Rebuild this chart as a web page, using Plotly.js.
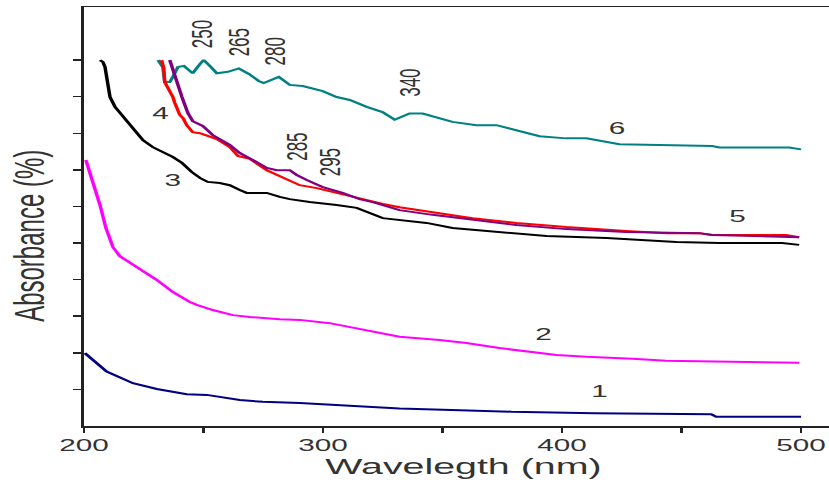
<!DOCTYPE html>
<html>
<head>
<meta charset="utf-8">
<script src="https://cdn.plot.ly/plotly-3.0.1.min.js"></script>
<style>
  html, body { margin: 0; padding: 0; background: #fff; }
  #wrap { width: 829px; height: 486px; overflow: hidden; position: relative; }
  #chart { width: 474px; height: 486px; transform: scaleX(1.749); transform-origin: 0 0; }
</style>
</head>
<body>
<div id="wrap"><div id="chart"></div></div>
<script>
// ---- Data (wavelength in nm, absorbance in arbitrary tick units) ----
const wl1  = [200.4, 209.5, 220.5, 230.5, 243, 251.4, 265.2, 274.8, 290.3, 311.2, 332, 353.8, 378.9, 413.5, 462.4, 464.5, 500];
const abs1 = [1.99, 1.49, 1.17, 1.01, 0.87, 0.85, 0.71, 0.66, 0.63, 0.55, 0.48, 0.44, 0.39, 0.35, 0.32, 0.25, 0.25];

const wl2  = [200.8, 203.8, 206.7, 209.2, 212.1, 215, 218, 223.4, 230.5, 237.2, 244.3, 247.2, 253.9, 262.3, 269.4, 281.9, 290.3, 302.8, 311.2, 319.5, 332, 348.8, 360, 373.8, 387.6, 397.7, 410.2, 429.4, 443.6, 457.4, 471.2, 499.2];
const abs2 = [7.27, 6.67, 6.04, 5.41, 4.89, 4.64, 4.51, 4.29, 3.99, 3.66, 3.39, 3.31, 3.17, 3.03, 2.98, 2.92, 2.90, 2.81, 2.70, 2.60, 2.44, 2.35, 2.27, 2.13, 2.02, 1.94, 1.89, 1.84, 1.78, 1.77, 1.74, 1.73];

const wl3  = [206.7, 207.9, 208.8, 209.6, 210.9, 213, 215.9, 219.2, 222.1, 224.7, 228.8, 233, 237.2, 241, 245.1, 248.5, 251.8, 256.8, 261, 265.2, 268.1, 276.5, 281.9, 286.1, 294.4, 305.7, 314.1, 325, 333.3, 343.3, 354.2, 372.6, 393.5, 418.6, 447.8, 465.8, 492.1, 499.2];
const abs3 = [10.0, 9.95, 9.81, 9.45, 8.99, 8.72, 8.50, 8.22, 8.00, 7.81, 7.62, 7.49, 7.35, 7.19, 6.94, 6.78, 6.67, 6.64, 6.58, 6.45, 6.37, 6.37, 6.26, 6.20, 6.12, 6.04, 5.96, 5.68, 5.63, 5.55, 5.41, 5.30, 5.19, 5.14, 5.03, 5.00, 5.00, 4.95];

const wl4  = [232.5, 233.4, 233.8, 235.9, 237.2, 238, 240.1, 241.4, 243, 245.5, 248.5, 255.6, 261, 264.4, 269.4, 276.5, 283.2, 290.3, 297.4, 305.7, 314.1, 325, 332, 345.8, 362.6, 380.9, 401.8, 426.9, 443.6, 457.4, 462.8, 493.8, 499.2];
const abs4 = [10.0, 9.78, 9.40, 9.18, 8.99, 8.83, 8.50, 8.42, 8.22, 8.03, 8.00, 7.84, 7.62, 7.38, 7.30, 6.99, 6.80, 6.58, 6.50, 6.37, 6.23, 6.07, 5.98, 5.85, 5.68, 5.55, 5.44, 5.33, 5.27, 5.27, 5.22, 5.22, 5.16];

const wl5  = [235.9, 236.8, 238.9, 241, 243.5, 245.5, 249.7, 253.9, 261, 265.2, 270.6, 276.5, 280.7, 286.1, 289, 293.2, 299.9, 308.2, 315.3, 320.8, 327.9, 332, 345.8, 362.6, 380.9, 401.8, 426.9, 457.4, 462.8, 499.2];
const abs5 = [10.0, 9.81, 9.40, 8.99, 8.55, 8.33, 8.20, 7.95, 7.68, 7.46, 7.27, 7.05, 6.99, 6.99, 6.86, 6.72, 6.53, 6.37, 6.20, 6.12, 5.98, 5.90, 5.77, 5.63, 5.49, 5.38, 5.30, 5.27, 5.22, 5.16];

const wl6  = [231, 233, 233.8, 235.9, 237.2, 239.3, 241.8, 243.5, 245.5, 248.5, 250.1, 252.7, 255.6, 260.2, 264.8, 269, 273.1, 275.2, 278.6, 281.5, 286.1, 291.5, 299.9, 305.7, 311.2, 318.3, 324.9, 330, 336.2, 341.7, 354.2, 364.2, 372.6, 390.6, 401.8, 410.2, 424, 435.3, 462.8, 465.8, 495, 500];
const abs6 = [10.0, 9.81, 9.40, 9.40, 9.54, 9.81, 9.84, 9.73, 9.64, 9.89, 10.0, 9.84, 9.64, 9.68, 9.77, 9.62, 9.43, 9.37, 9.45, 9.54, 9.32, 9.29, 9.15, 8.99, 8.91, 8.72, 8.58, 8.37, 8.54, 8.54, 8.31, 8.22, 8.22, 7.92, 7.86, 7.86, 7.70, 7.68, 7.65, 7.61, 7.61, 7.56];

// Curve number labels
const curveLabels = ['1', '2', '3', '4', '5', '6'];
const curveLabelX = [415.6, 391.8, 237.2, 231.8, 473.0, 422.5];
const curveLabelY = [0.93, 2.50, 6.70, 8.55, 5.72, 8.14];

// Peak wavelength labels (rotated)
const peakLabels = ['250', '265', '280', '340', '285', '295'];
const peakLabelX = [249.1, 265.0, 280.4, 336.4, 289.0, 303.0];
const peakLabelY = [10.71, 10.48, 10.23, 9.39, 7.62, 7.20];

const xTickVals  = [200, 250, 300, 350, 400, 450, 500];
const xTickText  = ['200', '', '300', '', '400', '', '500'];
const yTickVals  = [1, 2, 3, 4, 5, 6, 7, 8, 9, 10];

const xTitle = 'Wavelegth (nm)';
const yTitle = 'Absorbance (%)';

const FONT = 'Liberation Sans, Arial, sans-serif';
const TXT = '#333333';

function line(x, y, color) {
  return { x: x, y: y, type: 'scatter', mode: 'lines',
           line: { color: color, width: 2 }, hoverinfo: 'skip', showlegend: false };
}

const traces = [
  line(wl1, abs1, '#000080'),
  line(wl2, abs2, '#FF00FF'),
  line(wl3, abs3, '#000000'),
  line(wl6, abs6, '#008080'),
  line(wl4, abs4, '#FF0000'),
  line(wl5, abs5, '#800080')
];

const annotations = [];
curveLabels.forEach((t, i) => annotations.push({
  x: curveLabelX[i], y: curveLabelY[i], xref: 'x', yref: 'y', text: t,
  showarrow: false, xanchor: 'center', yanchor: 'middle',
  font: { family: FONT, size: 17, color: TXT }
}));
peakLabels.forEach((t, i) => annotations.push({
  x: peakLabelX[i], y: peakLabelY[i], xref: 'x', yref: 'y', text: t,
  showarrow: false, xanchor: 'center', yanchor: 'middle', textangle: -90,
  font: { family: FONT, size: 17, color: TXT }
}));
// axis titles (placed as in the original, slightly off-centre)
annotations.push({
  x: -0.074, y: 0.455, xref: 'paper', yref: 'paper', text: yTitle,
  showarrow: false, xanchor: 'center', yanchor: 'middle', textangle: -90,
  font: { family: FONT, size: 24, color: TXT }
});
annotations.push({
  x: 0.51, y: -0.0955, xref: 'paper', yref: 'paper', text: xTitle,
  showarrow: false, xanchor: 'center', yanchor: 'middle',
  font: { family: FONT, size: 22.5, color: TXT }
});

const layout = {
  width: 474, height: 486,
  margin: { l: 48, r: 0, t: 7, b: 60, pad: 0 },
  paper_bgcolor: '#ffffff', plot_bgcolor: '#ffffff',
  showlegend: false,
  font: { family: FONT, color: TXT },
  xaxis: {
    range: [200, 511.7], showgrid: false, zeroline: false,
    showline: true, linecolor: '#222', linewidth: 1.5, mirror: true,
    ticks: 'outside', ticklen: 5, tickwidth: 1.5, tickcolor: '#222',
    tickvals: xTickVals, ticktext: xTickText, ticklabelstandoff: -2,
    tickfont: { family: FONT, size: 17, color: TXT }
  },
  yaxis: {
    range: [0, 11.45], showgrid: false, zeroline: false,
    showline: true, linecolor: '#222', linewidth: 1.5,
    ticks: 'outside', ticklen: 5, tickwidth: 1.5, tickcolor: '#222',
    tickvals: yTickVals, showticklabels: false
  },
  annotations: annotations
};

Plotly.newPlot('chart', traces, layout, { displayModeBar: false, staticPlot: true });
</script>
</body>
</html>
